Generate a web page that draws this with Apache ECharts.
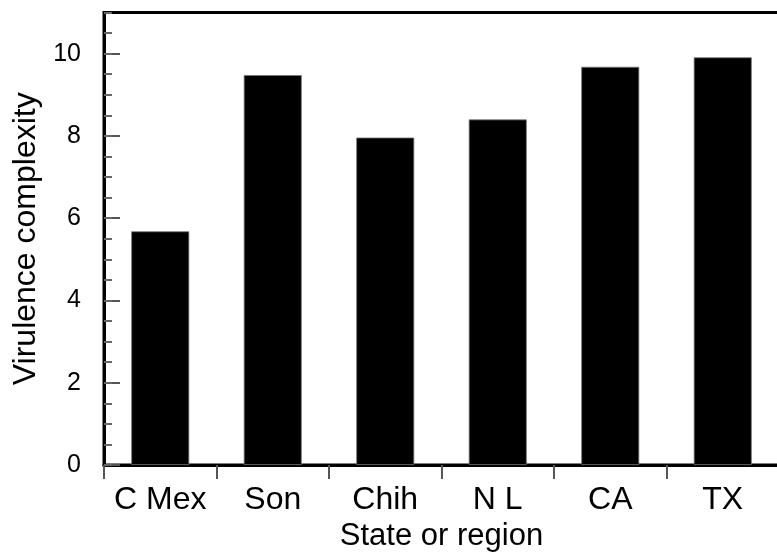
<!DOCTYPE html>
<html>
<head>
<meta charset="utf-8">
<script src="https://cdn.jsdelivr.net/npm/echarts@6/dist/echarts.min.js"></script>
<style>
html,body{margin:0;padding:0;background:#fff;}
#chart{width:777px;height:552px;}
</style>
</head>
<body>
<div id="chart"></div>
<script>
const categories = ["C Mex", "Son", "Chih", "N L", "CA", "TX"];
const virulenceValues = [5.68, 9.48, 7.96, 8.40, 9.68, 9.91];
const xAxisTitle = "State or region";
const yAxisTitle = "Virulence complexity";

const chart = echarts.init(document.getElementById('chart'), null, {renderer: 'canvas'});
const font = "'Liberation Sans', Arial, Helvetica, sans-serif";
chart.setOption({
  animation: false,
  backgroundColor: '#ffffff',
  grid: {
    left: 104, top: 12.5, width: 675, height: 452.5,
    outerBoundsMode: 'none', containLabel: false,
    show: true, borderColor: '#000', borderWidth: 3, backgroundColor: 'transparent'
  },
  xAxis: {
    type: 'category',
    data: categories,
    boundaryGap: true,
    name: xAxisTitle,
    nameLocation: 'middle',
    nameGap: 55,
    nameTextStyle: {fontFamily: font, fontSize: 31, color: '#000'},
    axisLine: {show: true, lineStyle: {color: '#000', width: 3}},
    axisTick: {show: true, interval: 0, inside: false, length: 14, alignWithLabel: false, lineStyle: {color: '#555', width: 2}},
    axisLabel: {interval: 0, fontFamily: font, fontSize: 32, color: '#000', margin: 19, hideOverlap: false},
    splitLine: {show: false}
  },
  yAxis: [
    {
      type: 'value',
      min: 0, max: 11, interval: 2,
      name: yAxisTitle,
      nameLocation: 'middle',
      nameGap: 53,
      nameTextStyle: {fontFamily: font, fontSize: 32, color: '#000'},
      axisLine: {show: true, lineStyle: {color: '#000', width: 3}},
      axisTick: {show: true, inside: true, length: 16, lineStyle: {color: '#555', width: 2}},
      axisLabel: {fontFamily: font, fontSize: 25, color: '#000', margin: 23, showMaxLabel: false},
      splitLine: {show: false}
    },
    {
      type: 'value',
      min: 0, max: 11, interval: 0.5,
      position: 'left',
      axisLine: {show: false},
      axisTick: {show: true, inside: true, length: 8, lineStyle: {color: '#666', width: 2}},
      axisLabel: {show: false},
      splitLine: {show: false}
    }
  ],
  series: [{
    type: 'bar',
    data: virulenceValues,
    yAxisIndex: 0,
    barWidth: 58,
    itemStyle: {color: '#000', borderColor: '#777', borderWidth: 0.8}
  }]
});
</script>
</body>
</html>
